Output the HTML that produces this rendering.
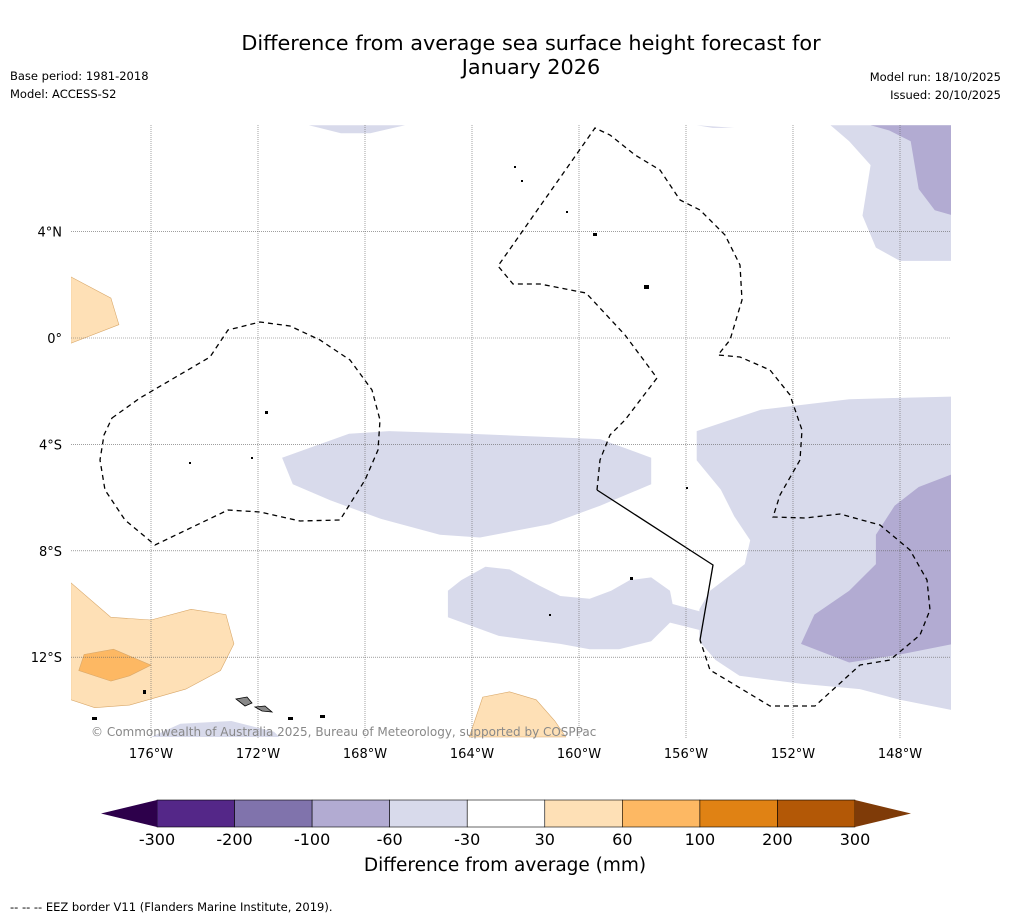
<!DOCTYPE html>
<html><head><meta charset="utf-8"><style>
body{margin:0;background:#fff;font-family:"Liberation Sans","DejaVu Sans",sans-serif;}
#wrap{position:relative;width:1011px;height:919px;overflow:hidden;background:#fff}
</style></head><body>
<div id="wrap">
<svg id="svg" width="1011" height="919" xmlns="http://www.w3.org/2000/svg">
<text x="531" y="50" font-size="20.8" text-anchor="middle" font-family="DejaVu Sans, sans-serif">Difference from average sea surface height forecast for</text>
<text x="531" y="74" font-size="20.8" text-anchor="middle" font-family="DejaVu Sans, sans-serif">January 2026</text>
<text x="10" y="80" font-size="11.5" font-family="DejaVu Sans, sans-serif">Base period: 1981-2018</text>
<text x="10" y="98" font-size="11.5" font-family="DejaVu Sans, sans-serif">Model: ACCESS-S2</text>
<text x="1001" y="81" font-size="11.5" text-anchor="end" font-family="DejaVu Sans, sans-serif">Model run: 18/10/2025</text>
<text x="1001" y="99" font-size="11.5" text-anchor="end" font-family="DejaVu Sans, sans-serif">Issued: 20/10/2025</text>
<defs><clipPath id="clip"><rect x="71" y="125" width="880" height="613"/></clipPath></defs>
<g id="map" clip-path="url(#clip)"></g>
<g id="grid"></g>
<g id="eez" fill="none" stroke="#000" stroke-width="1.3">
<path stroke-dasharray="5,4" d="M112,418 L140,398 L210,357 L228,330 L260,322 L290,326 L320,340 L350,360 L372,390 L380,420 L378,450 L365,480 L340,520 L300,521 L260,512 L228,510 L155,545 L125,520 L105,490 L100,460 L104,435 Z"/>
<path stroke-dasharray="5,4" d="M597,490 L600,460 L610,435 L625,420 L657,378 L625,335 L586,293 L540,284 L513,284 L498,266 L595,128 L610,135 L635,155 L660,170 L680,200 L700,210 L725,235 L740,265 L742,300 L730,340 L718,355 L740,357 L770,370 L790,395 L802,430 L800,460 L780,495 L773,517 L805,518 L840,514 L880,525 L910,550 L927,580 L930,610 L920,635 L890,660 L860,665 L815,706 L770,706 L710,670 L700,640"/>
<path d="M597,490 L713,565 L700,640"/>
</g>
<g fill="#000">
<rect x="514" y="166" width="2" height="2"/><rect x="521" y="180" width="2" height="2"/><rect x="566" y="211" width="2" height="2"/>
<rect x="593" y="233" width="4" height="3"/><rect x="644" y="285" width="5" height="4"/><rect x="265" y="411" width="3" height="3"/>
<rect x="189" y="462" width="2" height="2"/><rect x="251" y="457" width="2" height="2"/><rect x="686" y="487" width="2" height="2"/>
<rect x="630" y="577" width="3" height="3"/><rect x="549" y="614" width="2" height="2"/><rect x="143" y="690" width="3" height="4"/>
<rect x="288" y="717" width="5" height="3"/><rect x="320" y="715" width="5" height="3"/><rect x="92" y="717" width="5" height="3"/>
</g>
<g fill="#888" stroke="#000" stroke-width="0.8">
<path d="M236,699 L247,697 L252,703 L245,706 Z"/><path d="M255,707 L265,706 L272,712 L262,711 Z"/>
</g>
<text x="91" y="736" font-size="12" fill="#888" font-family="DejaVu Sans, sans-serif">© Commonwealth of Australia 2025, Bureau of Meteorology, supported by COSPPac</text>
<g id="axes" font-family="DejaVu Sans, sans-serif" font-size="13"></g>
<g id="cbar"></g>
<text x="505" y="871" font-size="18.5" text-anchor="middle" font-family="DejaVu Sans, sans-serif">Difference from average (mm)</text>
<text x="10" y="911" font-size="11.5" font-family="DejaVu Sans, sans-serif">--  --  -- EEZ border V11 (Flanders Marine Institute, 2019).</text>
</svg>
</div>
<script>
const levels=[-300,-200,-100,-60,-30,30,60,100,200,300];
const colors=["#2d004b","#542788","#8073ac","#b2abd2","#d8daeb","#ffffff","#fee0b6","#fdb863","#e08214","#b35806","#7f3b08"];
const lonTicks=[-176,-172,-168,-164,-160,-156,-152,-148];
const latTicks=[4,0,-4,-8,-12];
const regionLevels=[4,3,4,4,4,4,3,4,4,6,6,7,6];
const regionShapes=[
[[-150.6,8],[-146,8],[-146,2.9],[-148,2.9],[-148.9,3.4],[-149.4,4.6],[-149.1,6.5],[-149.9,7.4]],
[[-149.1,8],[-146,8],[-146,4.6],[-146.7,4.8],[-147.3,5.6],[-147.6,7.4],[-148.4,7.8]],
[[-155.6,-3.5],[-153.2,-2.7],[-149.9,-2.3],[-146,-2.2],[-146,-14],[-148,-13.6],[-149.5,-13.2],[-151.7,-13],[-154,-12.7],[-154.9,-12.1],[-155.5,-11.4],[-155.5,-10.2],[-155.1,-9.5],[-153.8,-8.5],[-153.6,-7.6],[-154.2,-6.7],[-154.7,-5.7],[-155.6,-4.6]],
[[-164.9,-9.5],[-164.4,-9.1],[-163.5,-8.6],[-162.6,-8.7],[-161.5,-9.3],[-160.7,-9.7],[-159.6,-9.8],[-158.8,-9.5],[-158.1,-9.1],[-157.3,-9],[-156.6,-9.5],[-156.5,-10],[-155.4,-10.3],[-155.4,-11],[-156.6,-10.7],[-157.3,-11.4],[-158.5,-11.7],[-159.6,-11.7],[-160.7,-11.5],[-163,-11.2],[-164.9,-10.5]],
[[-171.1,-4.5],[-168.6,-3.6],[-167.1,-3.5],[-164.1,-3.6],[-159.2,-3.8],[-157.3,-4.5],[-157.3,-5.5],[-159.2,-6.3],[-161.1,-7],[-163.7,-7.5],[-165.2,-7.4],[-167.4,-6.8],[-169.3,-6.1],[-170.7,-5.5]],
[[-170.1,8],[-166.5,8],[-167.8,7.7],[-168.9,7.7]],
[[-146,-5.1],[-147.3,-5.6],[-148.2,-6.3],[-148.9,-7.4],[-148.9,-8.5],[-149.9,-9.5],[-151.2,-10.4],[-151.7,-11.5],[-149.9,-12.2],[-148,-11.9],[-146,-11.5]],
[[-176,-15],[-174.9,-14.5],[-173,-14.4],[-171.4,-14.8],[-171.2,-15]],
[[-155.6,8],[-154.2,7.9],[-155,7.9]],
[[-179,2.3],[-177.5,1.5],[-177.2,0.5],[-179,-0.2]],
[[-179,-9.2],[-177.5,-10.5],[-176,-10.6],[-174.5,-10.2],[-173.2,-10.4],[-172.9,-11.5],[-173.4,-12.5],[-174.7,-13.2],[-176.8,-13.8],[-178.1,-13.9],[-179,-13.6]],
[[-178.7,-12.5],[-178.5,-11.9],[-177.4,-11.7],[-176,-12.3],[-176.8,-12.7],[-177.5,-12.9]],
[[-164.1,-15],[-163.6,-13.5],[-162.6,-13.3],[-161.6,-13.6],[-160.9,-14.4],[-160.5,-15]]
];
const NS="http://www.w3.org/2000/svg";
const X=lon=>151+(lon+176)*26.75;
const Y=lat=>338-lat*26.6;
const map=document.getElementById('map');
regionShapes.forEach((pts,i)=>{
  const p=document.createElementNS(NS,'polygon');
  p.setAttribute('points',pts.map(q=>X(q[0]).toFixed(1)+','+Y(q[1]).toFixed(1)).join(' '));
  p.setAttribute('fill',colors[regionLevels[i]]);
  p.setAttribute('stroke',regionLevels[i]>=6?'#d9a86a':'none');
  p.setAttribute('stroke-width','0.6');
  
  
  map.appendChild(p);
});
const grid=document.getElementById('grid'),axes=document.getElementById('axes');
lonTicks.forEach(l=>{
  const ln=document.createElementNS(NS,'line');
  ln.setAttribute('x1',X(l));ln.setAttribute('x2',X(l));ln.setAttribute('y1',125);ln.setAttribute('y2',738);
  ln.setAttribute('stroke','#666');ln.setAttribute('stroke-width','0.6');ln.setAttribute('stroke-dasharray','1,1');
  
  
  grid.appendChild(ln);
  const t=document.createElementNS(NS,'text');
  t.setAttribute('x',X(l));t.setAttribute('y',758);t.setAttribute('text-anchor','middle');
  t.textContent=Math.abs(l)+'°W';
  
  
  axes.appendChild(t);
});
latTicks.forEach(l=>{
  const ln=document.createElementNS(NS,'line');
  ln.setAttribute('x1',71);ln.setAttribute('x2',951);ln.setAttribute('y1',Y(l));ln.setAttribute('y2',Y(l));
  ln.setAttribute('stroke','#666');ln.setAttribute('stroke-width','0.6');ln.setAttribute('stroke-dasharray','1,1');
  
  
  grid.appendChild(ln);
  const t=document.createElementNS(NS,'text');
  t.setAttribute('x',62);t.setAttribute('y',Y(l)+5);t.setAttribute('text-anchor','end');
  t.textContent=l===0?'0°':Math.abs(l)+'°'+(l>0?'N':'S');
  
  
  axes.appendChild(t);
});
const cb=document.getElementById('cbar');
const cx0=157,cx1=855,cy0=800,cy1=827,n=levels.length-1,w=(cx1-cx0)/n;
for(let i=0;i<n;i++){
  const r=document.createElementNS(NS,'rect');
  r.setAttribute('x',cx0+i*w);r.setAttribute('y',cy0);r.setAttribute('width',w);r.setAttribute('height',cy1-cy0);
  r.setAttribute('fill',colors[i+1]);r.setAttribute('stroke','#000');r.setAttribute('stroke-width','0.6');
  
  
  cb.appendChild(r);
}
const lt=document.createElementNS(NS,'polygon');
lt.setAttribute('points',`${cx0},${cy0} 101,${(cy0+cy1)/2} ${cx0},${cy1}`);lt.setAttribute('fill',colors[0]);


cb.appendChild(lt);
const rt=document.createElementNS(NS,'polygon');
rt.setAttribute('points',`${cx1},${cy0} 911,${(cy0+cy1)/2} ${cx1},${cy1}`);rt.setAttribute('fill',colors[colors.length-1]);


cb.appendChild(rt);
levels.forEach((v,i)=>{
  const t=document.createElementNS(NS,'text');
  t.setAttribute('x',cx0+i*w);t.setAttribute('y',845);t.setAttribute('text-anchor','middle');
  t.setAttribute('font-size','16');t.setAttribute('font-family','DejaVu Sans, sans-serif');
  t.textContent=v;
  
  
  cb.appendChild(t);
});
</script>
</body></html>
